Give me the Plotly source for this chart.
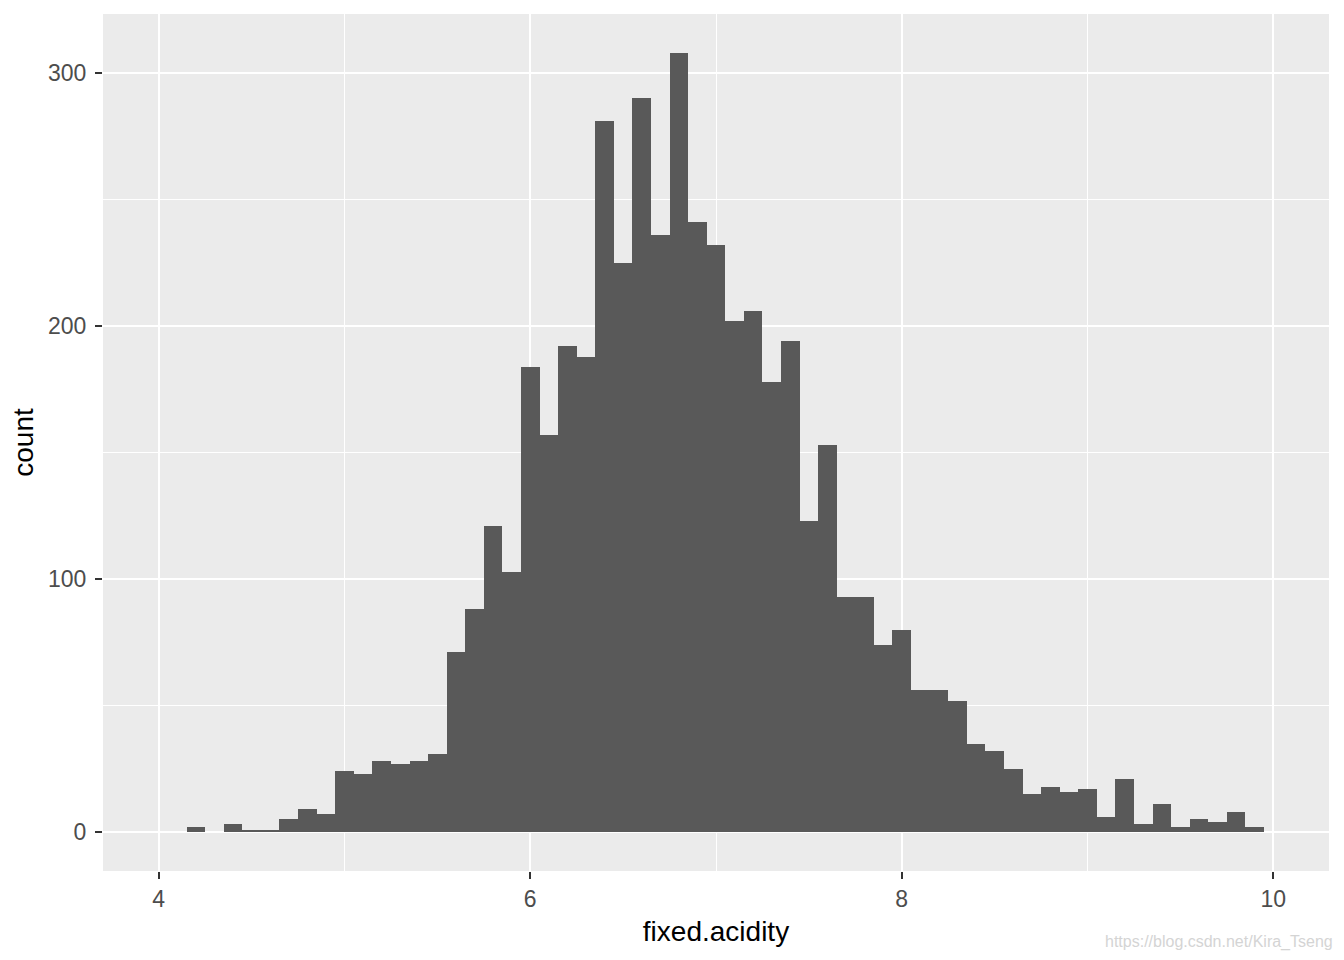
import plotly.graph_objects as go

# bin centres (binwidth 0.1) and counts
bin_centers = [round(4.2 + 0.1 * i, 1) for i in range(58)]
counts = [2, 0, 3, 1, 1, 5, 9, 7, 24, 23,
          28, 27, 28, 31, 71, 88, 121, 103, 184, 157,
          192, 188, 281, 225, 290, 236, 308, 241, 232, 202,
          206, 178, 194, 123, 153, 93, 93, 74, 80, 56,
          56, 52, 35, 32, 25, 15, 18, 16, 17, 6,
          21, 3, 11, 2, 5, 4, 8, 2]
x_ticks = [4, 6, 8, 10]
y_ticks = [0, 100, 200, 300]

FONT = 'Liberation Sans, Arial, sans-serif'

fig = go.Figure(go.Bar(x=bin_centers, y=counts, width=0.1,
                       marker=dict(color='#595959', line=dict(width=0)),
                       hoverinfo='x+y'))

# page body adds an 8px offset, so the figure is 8px smaller and margins shifted
fig.update_layout(
    width=1336, height=952,
    paper_bgcolor='white', plot_bgcolor='#EBEBEB',
    margin=dict(l=95, r=15, t=6, b=89),
    bargap=0, showlegend=False,
    font=dict(family=FONT),
    xaxis=dict(range=[3.7, 10.3], tickvals=x_ticks, ticks='outside', ticklen=7,
               tickwidth=1.5, tickcolor='#333333', showgrid=True, gridcolor='white',
               gridwidth=2, zeroline=False, showline=False,
               tickfont=dict(size=23, color='#4D4D4D', family=FONT),
               ticklabelstandoff=0,
               minor=dict(dtick=1, tick0=0, showgrid=True, gridcolor='white', gridwidth=1),
               title=dict(text='fixed.acidity', font=dict(size=28, color='black', family=FONT),
                          standoff=10)),
    yaxis=dict(range=[-15.4, 323.4], tickvals=y_ticks, ticks='outside', ticklen=7,
               tickwidth=1.5, tickcolor='#333333', showgrid=True, gridcolor='white',
               gridwidth=2, zeroline=False, showline=False,
               tickfont=dict(size=23, color='#4D4D4D', family=FONT),
               ticklabelstandoff=4,
               minor=dict(dtick=50, tick0=0, showgrid=True, gridcolor='white', gridwidth=1),
               title=dict(text='count', font=dict(size=28, color='black', family=FONT),
                          standoff=8)),
)

fig.add_annotation(text='https://blog.csdn.net/Kira_Tseng', xref='paper', yref='paper',
                   x=1.0049, y=-0.0828, xanchor='right', yanchor='middle', showarrow=False,
                   font=dict(size=16, color='#D4D4D4', family=FONT))

fig.write_html("out.html")
